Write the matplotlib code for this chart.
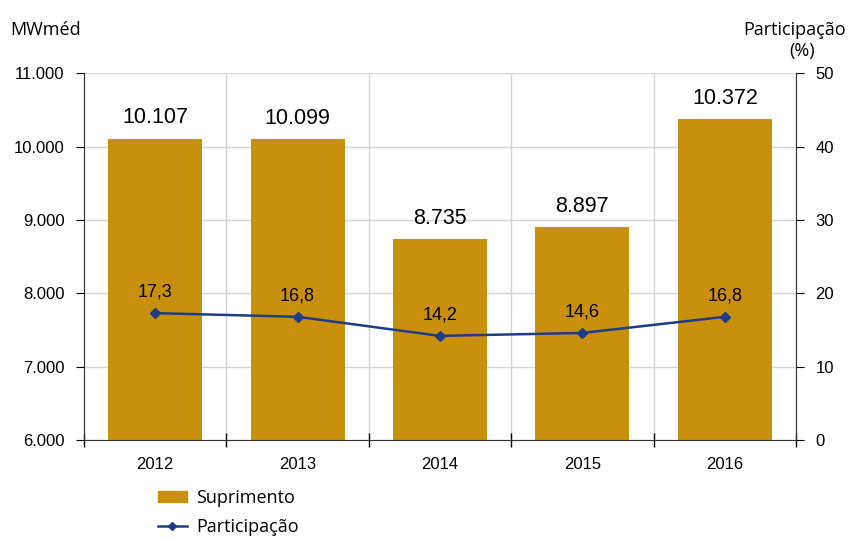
import matplotlib.pyplot as plt
import numpy as np
from matplotlib.patches import Patch
from matplotlib.lines import Line2D

anos = ["2012", "2013", "2014", "2015", "2016"]
suprimento = [10107, 10099, 8735, 8897, 10372]
participacao = [17.3, 16.8, 14.2, 14.6, 16.8]

bar_color = "#C8900C"
line_color = "#1F3C88"

plt.rcParams['font.family'] = ['Liberation Sans', 'DejaVu Sans']

fig = plt.figure(figsize=(8.56, 5.38), dpi=100)
ax = fig.add_axes([0.098, 0.182, 0.832, 0.682])
x = np.arange(len(anos))

ax.set_axisbelow(True)
ax.bar(x, suprimento, width=0.66, color=bar_color, zorder=2)
ax.set_ylim(6000, 11000)
ax.set_xlim(-0.5, 4.5)
ax.set_yticks(np.arange(6000, 11001, 1000))
ax.set_yticklabels(["{:,}".format(v).replace(",", ".") for v in range(6000, 11001, 1000)], fontsize=12)
ax.set_xticks(np.arange(-0.5, 5, 1))
ax.set_xticklabels([])
ax.set_xticks(x, minor=True)
ax.set_xticklabels(anos, minor=True, fontsize=12)
ax.tick_params(axis='x', which='major', direction='inout', length=10, width=1)
ax.tick_params(axis='x', which='minor', length=0, pad=12)
ax.tick_params(axis='y', direction='out', length=6, pad=8)
ax.grid(True, which='major', color='#d4d4d4', linewidth=1)
for s in ['top', 'right']:
    ax.spines[s].set_visible(False)
ax.spines['left'].set_color('#333333')
ax.spines['bottom'].set_color('#333333')

for xi, v in zip(x, suprimento):
    ax.text(xi, v + 140, "{:,}".format(v).replace(",", "."), ha='center', va='bottom', fontsize=15.5)

ax2 = ax.twinx()
ax2.plot(x, participacao, color=line_color, marker='D', markersize=5, linewidth=1.8, zorder=3)
ax2.set_ylim(0, 50)
ax2.set_yticks(np.arange(0, 51, 10))
ax2.tick_params(axis='y', direction='out', length=6, labelsize=12, pad=8)
for s in ['top', 'left', 'bottom']:
    ax2.spines[s].set_visible(False)
ax2.spines['right'].set_color('#333333')

for xi, v in zip(x, participacao):
    ax2.text(xi, v + 1.7, "{:.1f}".format(v).replace(".", ","), ha='center', va='bottom', fontsize=13)

fig.text(0.012, 0.945, "MWméd", fontsize=13, ha='left', va='center', family=['Open Sans', 'DejaVu Sans'])
fig.text(0.988, 0.945, "Participação", fontsize=13, ha='right', va='center', family=['Open Sans', 'DejaVu Sans'])
fig.text(0.937, 0.905, "(%)", fontsize=13, ha='center', va='center', family=['Open Sans', 'DejaVu Sans'])

handles = [Patch(color=bar_color, label='Suprimento'),
           Line2D([0], [0], color=line_color, marker='D', markersize=4, linewidth=1.8, label='Participação')]
fig.legend(handles=handles, loc='upper left', bbox_to_anchor=(0.174, 0.108), frameon=False,
           prop={'family': ['Open Sans', 'DejaVu Sans'], 'size': 13}, handlelength=1.6,
           handleheight=0.5, labelspacing=0.6, borderpad=0, handletextpad=0.5)

fig.savefig("out.png", dpi=100)
